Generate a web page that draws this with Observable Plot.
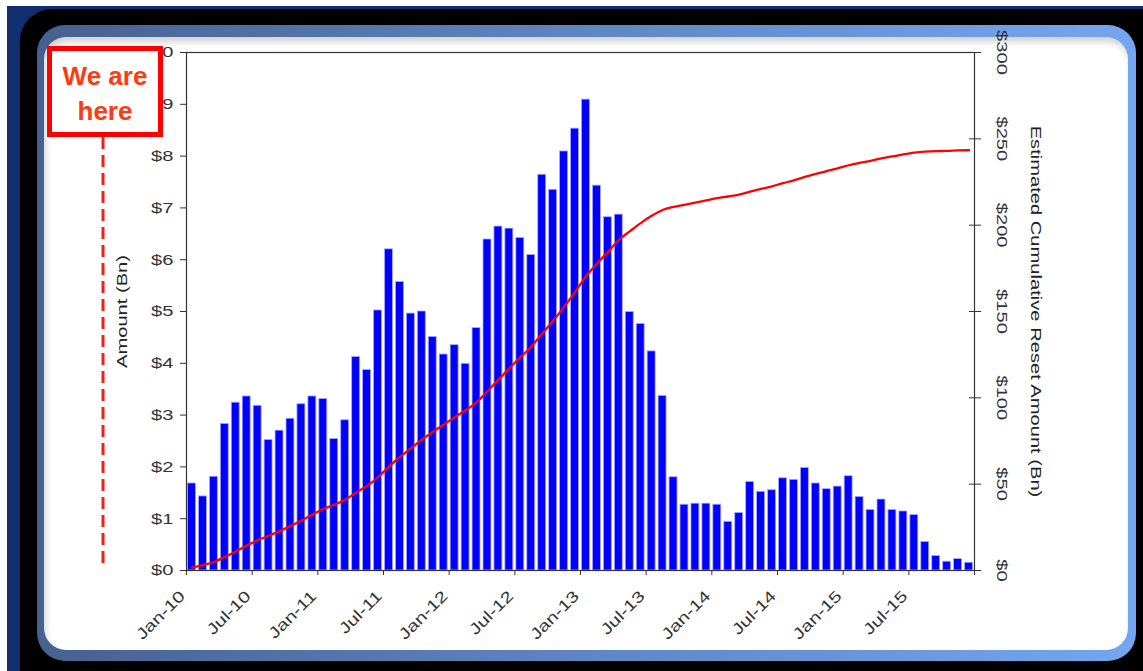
<!DOCTYPE html>
<html><head><meta charset="utf-8">
<script src="https://cdn.jsdelivr.net/npm/d3@7"></script>
<script src="https://cdn.jsdelivr.net/npm/@observablehq/plot@0.6"></script>
<style>
html,body{margin:0;padding:0;background:#fff;}
#stage{position:relative;width:1143px;height:671px;overflow:hidden;font-family:"Liberation Sans",Arial,sans-serif;}
.navy{position:absolute;left:7px;top:6px;right:0;bottom:0;background:#112f70;}
.black{position:absolute;left:20px;top:9px;width:1160px;height:700px;background:#000;border-radius:32px;}
.blue{position:absolute;left:37px;top:25px;width:1099px;height:636px;border-radius:28px;background:linear-gradient(90deg,#46618f,#5f86c4 50%,#74a6ef);}
.panel{position:absolute;left:44px;top:37px;width:1084px;height:613px;border-radius:22px;background:#fff;box-shadow:inset 2px 5px 6px rgba(0,0,0,0.18);}
.plot{position:absolute;left:0;top:0;}
.plot svg text{font-size:15.5px;}
#box{position:absolute;left:47px;top:46px;width:106px;height:73px;padding-top:8px;border:5px solid #ff0000;background:#fff;color:#ff3a12;font-weight:bold;font-size:26px;text-align:center;line-height:35px;font-family:"Liberation Sans",Arial,sans-serif;}
#dash{position:absolute;left:0;top:0;}
</style>
</head><body>
<div id="stage">
  <div class="navy"></div>
  <div class="black"></div>
  <div class="blue"></div>
  <div class="panel"></div>
  <div id="p1" class="plot"></div>
  <div id="p2" class="plot"></div>
  <svg id="dash" width="1143" height="671"><line x1="103" y1="137" x2="103" y2="568" stroke="#ff1a1a" stroke-width="3" stroke-dasharray="12 6"/></svg>
  <div id="box">We are<br>here</div>
</div>
<script>
// Monthly reset amounts, Jan-10 .. Dec-15 ($Bn)
const amounts = [1.68,1.43,1.81,2.83,3.24,3.36,3.18,2.52,2.70,2.93,3.21,3.36,
  3.31,2.54,2.90,4.12,3.87,5.02,6.20,5.57,4.96,5.00,4.51,4.17,
  4.35,3.99,4.68,6.39,6.64,6.60,6.42,6.09,7.64,7.35,8.09,8.53,
  9.09,7.43,6.82,6.87,4.99,4.76,4.23,3.37,1.80,1.27,1.29,1.29,
  1.27,0.94,1.11,1.71,1.52,1.55,1.78,1.75,1.98,1.68,1.57,1.62,
  1.82,1.42,1.17,1.37,1.17,1.14,1.07,0.55,0.28,0.17,0.22,0.15];
// Estimated cumulative reset amount ($Bn)
const cumulative = [1.7,3.1,4.9,7.8,11.0,14.4,17.5,20.1,22.8,25.7,28.9,32.3,
  35.6,38.1,41.0,45.1,49.0,54.0,60.2,65.8,70.7,75.7,80.3,84.4,
  88.8,92.8,97.4,103.8,110.5,117.1,123.5,129.6,137.2,144.6,152.7,161.2,
  170.3,177.7,184.5,191.4,196.4,201.2,205.4,208.8,210.6,211.8,213.1,214.4,
  215.7,216.6,217.7,219.4,221.0,222.5,224.3,226.0,228.0,229.7,231.3,232.9,
  234.7,236.1,237.3,238.7,239.8,241.0,242.0,242.6,242.9,243.0,243.3,243.4];
const xTickLabels = ["Jan-10","Jul-10","Jan-11","Jul-11","Jan-12","Jul-12","Jan-13","Jul-13","Jan-14","Jul-14","Jan-15","Jul-15"];
const leftTicks = [0,1,2,3,4,5,6,7,8,9,10];
const rightTicks = [0,50,100,150,200,250,300];
const leftTitle = "Amount (Bn)";
const rightTitle = "Estimated Cumulative Reset Amount (Bn)";

const nMonths = amounts.length;
const xTickPos = d3.range(0, nMonths + 1, 6);
const xLabelPos = d3.range(0, nMonths, 6);
const W = 1143, H = 671;
const margins = {marginLeft:186, marginRight:169, marginTop:52, marginBottom:101};
const style = {fontSize:"15.5px", fontFamily:"'Liberation Sans', Arial, sans-serif", color:"#333", background:"transparent", overflow:"visible"};
const FS = 15.5;

// the original uses a wide face: stretch glyphs along the reading direction,
// about each text's own anchor point (Plot puts it in the transform attribute)
function widen(svg, s) {
  svg.querySelectorAll("text").forEach(t => {
    const tr = t.getAttribute("transform");
    if (tr) t.setAttribute("transform", `${tr} scale(${s},1)`);
  });
}

const p1 = Plot.plot({
  width: W, height: H, ...margins, style,
  x: {domain:[0, nMonths]},
  y: {domain:[0, 10]},
  marks: [
    Plot.rectY(amounts, {x1:(d,i)=>i, x2:(d,i)=>i+1, y1:0, y2:d=>d, fill:"#0000ff", stroke:"#a9a9ff", strokeWidth:0.8, insetLeft:1.5, insetRight:1.5}),
    Plot.axisY({ticks:leftTicks, tickFormat:d=>"$"+d, tickSize:6, tickPadding:7, label:null, stroke:"#333", fontSize:FS}),
    Plot.axisX({ticks:xTickPos, tickFormat:()=>null, tickSize:5, label:null, stroke:"#333"}),
    Plot.axisX({ticks:xLabelPos, tickFormat:d=>xTickLabels[d/6], tickRotate:-45, tickSize:0, tickPadding:23, dx:-4, label:null, fontSize:FS}),
    Plot.text([leftTitle], {frameAnchor:"left", text:d=>d, rotate:-90, dx:-64, textAnchor:"middle", fill:"#222", fontSize:FS}),
    Plot.frame({stroke:"#333", strokeWidth:1.2})
  ]
});
widen(p1, 1.3);
document.getElementById("p1").append(p1);

const p2 = Plot.plot({
  width: W, height: H, ...margins, style,
  x: {domain:[0, nMonths], axis:null},
  y: {domain:[0, 300]},
  marks: [
    Plot.line(cumulative, {x:(d,i)=>i+0.5, y:d=>d, stroke:"#ff0000", strokeWidth:2.3, curve:"monotone-x"}),
    Plot.axisY({anchor:"right", ticks:rightTicks, tickSize:12, dx:-6, tickFormat:()=>null, label:null, stroke:"#333"}),
    Plot.text(rightTicks, {y:d=>d, text:d=>"$"+d, frameAnchor:"right", dx:27, rotate:90, textAnchor:"middle", fill:"#333", fontSize:FS}),
    Plot.text([rightTitle], {frameAnchor:"right", text:d=>d, rotate:90, dx:61, textAnchor:"middle", fill:"#222", fontSize:FS})
  ]
});
widen(p2, 1.3);
document.getElementById("p2").append(p2);
</script>
</body></html>
